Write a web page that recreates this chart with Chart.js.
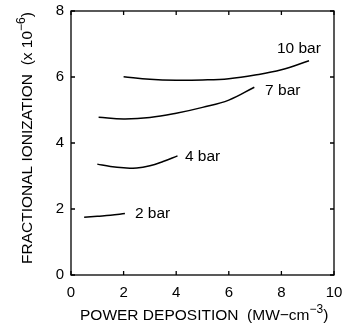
<!DOCTYPE html>
<html>
<head>
<meta charset="utf-8">
<script src="https://cdn.jsdelivr.net/npm/chart.js@4/dist/chart.umd.min.js"></script>
<style>
  html, body { margin: 0; padding: 0; background: #fff; }
  #wrap { width: 342px; height: 326px; position: relative; }
</style>
</head>
<body>
<div id="wrap"><canvas id="IonizationChart"></canvas></div>
<script>
// values
var xTicks = [0, 2, 4, 6, 8, 10];
var yTicks = [0, 2, 4, 6, 8];

var power2 = [0.5, 1.0, 1.5, 2.05];
var ion2 = [1.75, 1.78, 1.81, 1.86];

var power4 = [1.0, 1.5, 2.0, 2.5, 3.0, 3.5, 4.05];
var ion4 = [3.36, 3.29, 3.25, 3.24, 3.31, 3.44, 3.61];

var power7 = [1.05, 2, 3, 4, 5, 6, 6.97];
var ion7 = [4.78, 4.73, 4.77, 4.9, 5.08, 5.3, 5.69];

var power10 = [2.0, 3, 4, 5, 6, 7, 8, 9.05];
var ion10 = [6.01, 5.93, 5.9, 5.91, 5.95, 6.06, 6.22, 6.49];

var curveLabels = ['2 bar', '4 bar', '7 bar', '10 bar'];
var labelAt = [[2.43, 1.85], [4.33, 3.58], [7.38, 5.58], [7.83, 6.85]];

function pts(xs, ys) {
    return xs.map(function (x, i) { return { x: x, y: ys[i] }; });
}

var FONT = '"Liberation Sans", Arial, sans-serif';
var TITLE = 15.5, SUP = 12;

var framePlugin = {
    id: 'frame',
    afterDatasetsDraw: function (chart) {
        var c = chart.ctx, a = chart.chartArea;
        var xs = chart.scales.x, ys = chart.scales.y;
        c.save();
        c.strokeStyle = '#000';
        c.lineWidth = 1.3;
        c.strokeRect(a.left, a.top, a.right - a.left, a.bottom - a.top);
        // inward tick marks on all four sides
        var tl = 4;
        xTicks.forEach(function (v) {
            var px = xs.getPixelForValue(v);
            c.beginPath();
            c.moveTo(px, a.bottom); c.lineTo(px, a.bottom - tl);
            c.moveTo(px, a.top); c.lineTo(px, a.top + tl);
            c.stroke();
        });
        yTicks.forEach(function (v) {
            var py = ys.getPixelForValue(v);
            c.beginPath();
            c.moveTo(a.left, py); c.lineTo(a.left + tl, py);
            c.moveTo(a.right, py); c.lineTo(a.right - tl, py);
            c.stroke();
        });

        // curve labels
        c.fillStyle = '#000';
        c.font = '15.5px ' + FONT;
        c.textBaseline = 'middle';
        c.textAlign = 'left';
        curveLabels.forEach(function (t, i) {
            c.fillText(t, xs.getPixelForValue(labelAt[i][0]), ys.getPixelForValue(labelAt[i][1]));
        });

        // x axis title with superscript
        c.textBaseline = 'alphabetic';
        c.font = TITLE + 'px ' + FONT;
        var main = 'POWER DEPOSITION  (MW\u2212cm';
        var sup = '\u22123';
        var wMain = c.measureText(main).width;
        c.font = SUP + 'px ' + FONT;
        var wSup = c.measureText(sup).width;
        var x0 = 80;
        var by = 320;
        c.font = TITLE + 'px ' + FONT;
        c.fillText(main, x0, by);
        c.font = SUP + 'px ' + FONT;
        c.fillText(sup, x0 + wMain, by - 7);
        c.font = TITLE + 'px ' + FONT;
        c.fillText(')', x0 + wMain + wSup, by);

        // y axis title, rotated
        c.translate(32, 264);
        c.rotate(-Math.PI / 2);
        var yMain = 'FRACTIONAL IONIZATION  (x 10';
        var ySup = '\u22126';
        c.font = TITLE + 'px ' + FONT;
        var w1 = c.measureText(yMain).width;
        c.font = SUP + 'px ' + FONT;
        var w2 = c.measureText(ySup).width;
        c.font = TITLE + 'px ' + FONT;
        c.fillText(yMain, 0, 0);
        c.font = SUP + 'px ' + FONT;
        c.fillText(ySup, w1, -7);
        c.font = TITLE + 'px ' + FONT;
        c.fillText(')', w1 + w2, 0);
        c.restore();
    }
};

function curve(xs, ys) {
    return {
        data: pts(xs, ys),
        showLine: true,
        borderColor: '#000',
        borderWidth: 1.5,
        pointRadius: 0,
        tension: 0.4,
        fill: false
    };
}

var ctx = document.getElementById('IonizationChart').getContext('2d');
new Chart(ctx, {
    type: 'scatter',
    data: {
        datasets: [
            curve(power2, ion2),
            curve(power4, ion4),
            curve(power7, ion7),
            curve(power10, ion10)
        ]
    },
    options: {
        responsive: true,
        maintainAspectRatio: false,
        animation: false,
        layout: { padding: { top: 11, right: 8, left: 0, bottom: 0 } },
        plugins: {
            legend: { display: false },
            tooltip: { enabled: false }
        },
        scales: {
            x: {
                type: 'linear',
                min: 0,
                max: 10,
                afterFit: function (s) {
                    s.height = 51;
                    s.paddingLeft = 0; s.paddingRight = 0;
                },
                afterBuildTicks: function (s) { s.ticks = xTicks.map(function (v) { return { value: v }; }); },
                grid: { display: false, drawTicks: false },
                border: { display: false },
                ticks: { padding: 9, color: '#000', font: { size: 15, family: FONT } }
            },
            y: {
                type: 'linear',
                min: 0,
                max: 8,
                afterFit: function (s) {
                    s.width = 71;
                    s.paddingTop = 0; s.paddingBottom = 0;
                },
                afterBuildTicks: function (s) { s.ticks = yTicks.map(function (v) { return { value: v }; }); },
                grid: { display: false, drawTicks: false },
                border: { display: false },
                ticks: { padding: 7, color: '#000', font: { size: 15, family: FONT } }
            }
        }
    },
    plugins: [framePlugin]
});
</script>
</body>
</html>
